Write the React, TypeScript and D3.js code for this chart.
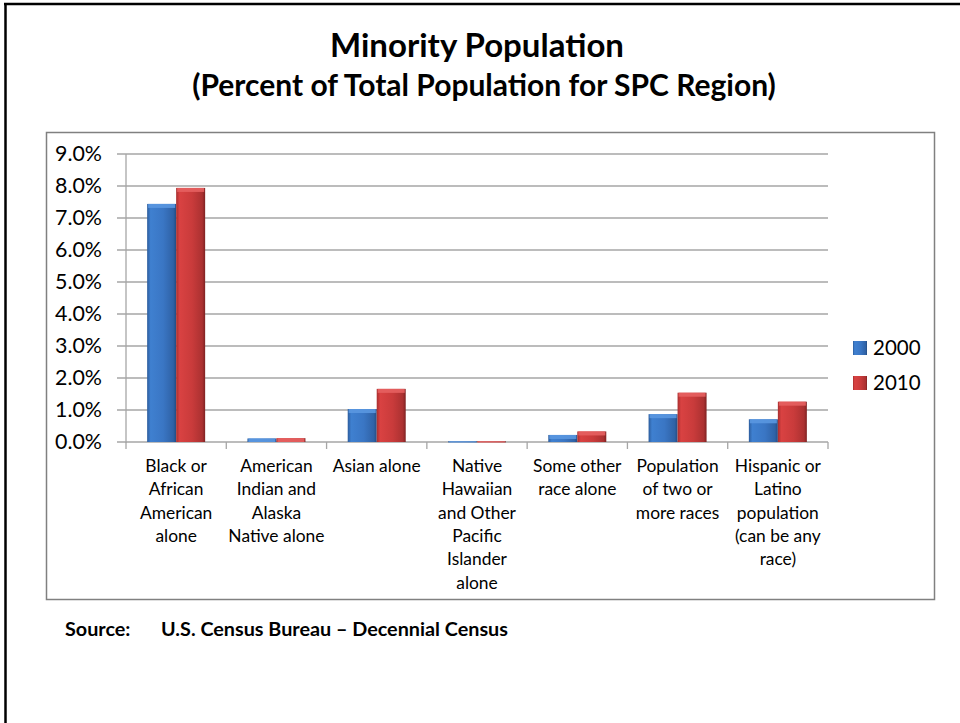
import React from "react";
import * as d3 from "d3";

const categories: string[][] = [
  ["Black or", "African", "American", "alone"],
  ["American", "Indian and", "Alaska", "Native alone"],
  ["Asian alone"],
  ["Native", "Hawaiian", "and Other", "Pacific", "Islander", "alone"],
  ["Some other", "race alone"],
  ["Population", "of two or", "more races"],
  ["Hispanic or", "Latino", "population", "(can be any", "race)"],
];
const values2000: number[] = [7.44, 0.11, 1.03, 0.02, 0.22, 0.87, 0.71];
const values2010: number[] = [7.94, 0.12, 1.66, 0.02, 0.33, 1.54, 1.26];
const seriesNames: string[] = ["2000", "2010"];
const yTicks: number[] = [0, 1, 2, 3, 4, 5, 6, 7, 8, 9];

const FONT = "Lato, 'Open Sans', sans-serif";

export default function App() {
  const W = 960;
  const H = 723;
  const plotLeft = 126;
  const plotRight = 828;
  const plotTop = 154;
  const plotBottom = 442;

  const x = d3
    .scaleBand<number>()
    .domain(categories.map((_, i) => i))
    .range([plotLeft, plotRight])
    .paddingInner(0)
    .paddingOuter(0);
  const y = d3.scaleLinear().domain([0, 9]).range([plotBottom, plotTop]);
  const groupW = 58;
  const barW = groupW / 2;

  const series = [values2000, values2010];
  const gradIds = ["gBlue", "gRed"];

  const catTicks = categories.map((_, i) => x(i)!).concat([plotRight]);

  return (
    <svg
      width={W}
      height={H}
      style={{ position: "absolute", left: 0, top: 0, background: "#fff" }}
      fontFamily={FONT}
    >
      <defs>
        <linearGradient id="gBlue" x1="0" x2="1" y1="0" y2="0">
          <stop offset="0" stopColor="#2c5c9c" />
          <stop offset="0.12" stopColor="#3f80d0" />
          <stop offset="0.55" stopColor="#3a76c4" />
          <stop offset="0.9" stopColor="#2f62a6" />
          <stop offset="1" stopColor="#244c82" />
        </linearGradient>
        <linearGradient id="gRed" x1="0" x2="1" y1="0" y2="0">
          <stop offset="0" stopColor="#a82e2e" />
          <stop offset="0.12" stopColor="#d94242" />
          <stop offset="0.55" stopColor="#c93b3b" />
          <stop offset="0.9" stopColor="#ab3131" />
          <stop offset="1" stopColor="#7e2222" />
        </linearGradient>
      </defs>

      {/* outer slide frame */}
      <line x1={5.5} x2={5.5} y1={3} y2={H} stroke="#000" strokeWidth={2.5} />
      <line x1={4} x2={W} y1={4} y2={4} stroke="#000" strokeWidth={2.5} />

      {/* titles */}
      <text x={477} y={57} textAnchor="middle" fontSize={33} fontWeight={700} fill="#000">
        Minority Population
      </text>
      <text x={484} y={96} textAnchor="middle" fontSize={30} fontWeight={700} fill="#000">
        (Percent of Total Population for SPC Region)
      </text>

      {/* chart box */}
      <rect x={46.5} y={132.5} width={888} height={467} fill="#fff" stroke="#808080" strokeWidth={1.5} />

      {/* gridlines */}
      {yTicks.map((t) => (
        <line
          key={"g" + t}
          x1={plotLeft - 9}
          x2={plotRight}
          y1={y(t)}
          y2={y(t)}
          stroke="#a6a6a6"
          strokeWidth={1.3}
        />
      ))}
      {/* y axis line */}
      <line x1={plotLeft} x2={plotLeft} y1={plotTop} y2={plotBottom + 1} stroke="#a6a6a6" strokeWidth={1.3} />
      {/* y tick labels */}
      {yTicks.map((t) => (
        <text key={"yl" + t} x={102} y={y(t)} dy="0.35em" textAnchor="end" fontSize={21.4} fill="#000">
          {t.toFixed(1)}%
        </text>
      ))}
      {/* category ticks */}
      {catTicks.map((cx, i) => (
        <line key={"ct" + i} x1={cx} x2={cx} y1={plotBottom} y2={plotBottom + 7} stroke="#a6a6a6" strokeWidth={1.3} />
      ))}

      {/* bars */}
      {categories.map((_, i) => {
        const cx = x(i)! + x.bandwidth() / 2;
        return series.map((vals, s) => {
          const bx = cx - groupW / 2 + s * barW;
          const by = y(vals[i]);
          const bh = plotBottom - by;
          const top = s === 0 ? "#5a97e0" : "#e66060";
          return (
            <g key={"b" + i + "-" + s}>
              <rect x={bx} y={by} width={barW} height={Math.max(bh, 1)} fill={`url(#${gradIds[s]})`} />
              <rect x={bx + 1} y={by} width={barW - 2} height={Math.min(4, Math.max(bh, 1))} fill={top} opacity={0.9} />
            </g>
          );
        });
      })}

      {/* category labels */}
      {categories.map((lines, i) => {
        const cx = x(i)! + x.bandwidth() / 2;
        return (
          <text key={"cl" + i} x={cx} y={472} textAnchor="middle" fontSize={17.4} fill="#000">
            {lines.map((ln, k) => (
              <tspan key={k} x={cx} dy={k === 0 ? 0 : 23.3}>
                {ln}
              </tspan>
            ))}
          </text>
        );
      })}

      {/* legend */}
      {seriesNames.map((nm, s) => (
        <g key={"lg" + s} transform={`translate(853, ${341 + s * 35})`}>
          <rect x={0} y={0} width={14} height={14} fill={`url(#${gradIds[s]})`} />
          <text x={20} y={7} dy="0.35em" fontSize={20.5} fill="#000">
            {nm}
          </text>
        </g>
      ))}

      {/* source */}
      <text x={65} y={636} fontSize={19.8} fontWeight={700} fill="#000">
        Source:
      </text>
      <text x={161} y={636} fontSize={19.8} fontWeight={700} fill="#000">
        U.S. Census Bureau – Decennial Census
      </text>
    </svg>
  );
}
